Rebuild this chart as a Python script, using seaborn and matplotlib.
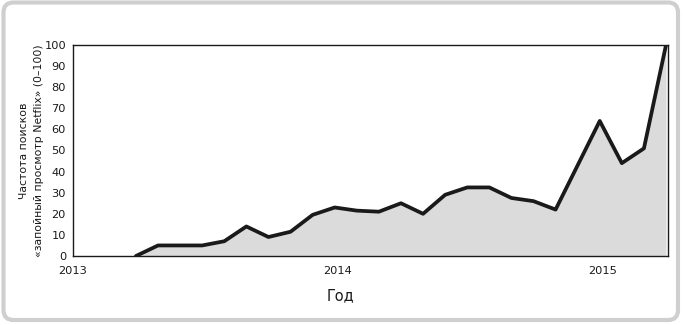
import matplotlib
matplotlib.use("Agg")
import matplotlib.pyplot as plt
from matplotlib.patches import FancyBboxPatch
import seaborn as sns
import pandas as pd

# Months since Jan 2013 (data points sit just before each month start) and
# search interest values (0-100)
month_index = [3, 4, 5, 6, 7, 8, 9, 10, 11, 12, 13, 14, 15, 16, 17, 18, 19, 20,
               21, 22, 23, 24, 25, 26, 27]
interest = [0, 5, 5, 5, 7, 14, 9, 11.5, 19.5, 23, 21.5, 21, 25, 20, 29, 32.5, 32.5,
            27.5, 26, 22, 43, 64, 44, 51, 100]
year_ticks = [2013, 2014, 2015]
y_ticks = list(range(0, 101, 10))

df = pd.DataFrame({"year": [2013 + (m - 0.15) / 12 for m in month_index],
                   "value": interest})

sns.set_style("white")
plt.rcParams["font.family"] = ["DejaVu Sans"]

fig = plt.figure(figsize=(6.83, 3.25), dpi=100)
ax = fig.add_axes([73 / 683, 1 - 256 / 325, (668 - 73) / 683, (256 - 45) / 325])

ax.fill_between(df["year"], df["value"], 0, color="#dcdbdc", zorder=1, linewidth=0)
sns.lineplot(data=df, x="year", y="value", ax=ax, color="#1a1a1a", linewidth=2.7,
             zorder=2)

ax.set_xlim(2013, 2015.245)
ax.set_ylim(0, 100)
ax.set_xticks(year_ticks)
ax.set_xticklabels([str(y) for y in year_ticks])
ax.set_yticks(y_ticks)
ax.tick_params(axis="both", length=0, labelsize=8.2, colors="#1a1a1a")
ax.tick_params(axis="x", pad=7)
ax.tick_params(axis="y", pad=5)
for s in ax.spines.values():
    s.set_visible(True)
    s.set_color("#1a1a1a")
    s.set_linewidth(1.0)

ax.set_xlabel("Год", fontsize=10.5, color="#1a1a1a", labelpad=11)
ax.xaxis.set_label_coords((340 - 73) / 595, -0.155)
ax.set_ylabel("Частота поисков\n«запойный просмотр Netflix» (0–100)", fontsize=7.8,
              color="#1a1a1a", linespacing=1.6)
ax.yaxis.set_label_coords(-0.049, 0.5)

# rounded border frame (in inches)
frame = FancyBboxPatch((0.035, 0.05), 6.745, 3.175,
                       boxstyle="round,pad=0,rounding_size=0.1",
                       transform=fig.dpi_scale_trans, facecolor="none",
                       edgecolor="#cfcfcf", linewidth=3.0, zorder=0)
fig.patches.append(frame)

fig.savefig("out.png", dpi=100)
